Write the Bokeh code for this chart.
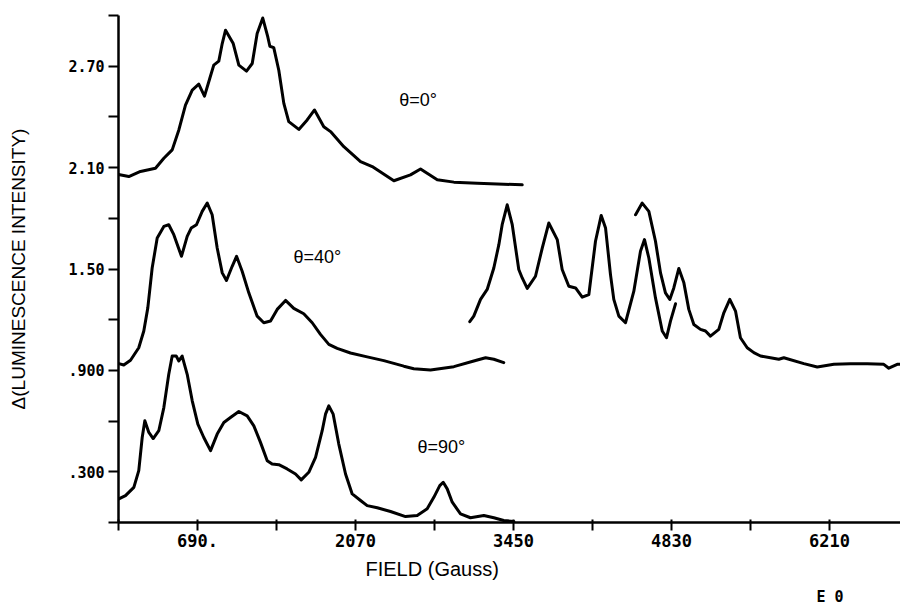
import math
from bokeh.plotting import figure
from bokeh.models import Range1d, FixedTicker, Label, Title
from bokeh.embed import file_html
from bokeh.resources import INLINE

# ---- data (Field in Gauss, Delta luminescence intensity) ----
theta0_x = [0, 90, 192, 323, 396, 469, 527, 585, 644, 701, 751, 797, 832, 876, 906, 935,
            1002, 1051, 1118, 1168, 1211, 1260, 1304, 1322, 1356, 1400, 1444, 1487, 1575,
            1648, 1712, 1793, 1852, 1968, 2114, 2216, 2405, 2550, 2638, 2784, 2929, 3133,
            3365, 3526]
theta0_y = [2.059, 2.047, 2.077, 2.096, 2.155, 2.205, 2.323, 2.470, 2.559, 2.594, 2.523,
            2.627, 2.706, 2.730, 2.834, 2.913, 2.834, 2.706, 2.671, 2.716, 2.893, 2.985,
            2.873, 2.818, 2.810, 2.676, 2.480, 2.372, 2.326, 2.382, 2.441, 2.342, 2.313,
            2.224, 2.136, 2.106, 2.022, 2.057, 2.092, 2.028, 2.014, 2.008, 2.002, 1.998]

theta40_low_x = [3, 46, 105, 177, 221, 256, 294, 338, 396, 439, 483, 550, 600, 635, 681,
                 731, 775, 818, 862, 906, 943, 993, 1031, 1080, 1138, 1211, 1269, 1328,
                 1386, 1459, 1531, 1618, 1692, 1764, 1837, 1910, 2026, 2172, 2317, 2492,
                 2579, 2725, 2929, 3103, 3206, 3278, 3365]
theta40_low_y = [0.940, 0.932, 0.960, 1.034, 1.133, 1.270, 1.506, 1.683, 1.752, 1.762,
                 1.703, 1.575, 1.693, 1.742, 1.762, 1.841, 1.890, 1.821, 1.624, 1.477,
                 1.432, 1.516, 1.575, 1.487, 1.359, 1.221, 1.182, 1.192, 1.261, 1.314,
                 1.267, 1.235, 1.182, 1.113, 1.054, 1.030, 1.003, 0.980, 0.958, 0.925,
                 0.910, 0.902, 0.922, 0.956, 0.975, 0.966, 0.946]

theta40_highA_x = [3068, 3103, 3162, 3220, 3278, 3322, 3351, 3395, 3439, 3496, 3526, 3570,
                   3642, 3701, 3758, 3832, 3875, 3933, 3992, 4050, 4108, 4166, 4216, 4254,
                   4297, 4326, 4370, 4428, 4501, 4559, 4594, 4632, 4690, 4749, 4786, 4821,
                   4865]
theta40_highA_y = [1.188, 1.221, 1.320, 1.379, 1.506, 1.644, 1.762, 1.880, 1.762, 1.497,
                   1.447, 1.385, 1.457, 1.624, 1.772, 1.674, 1.497, 1.398, 1.388, 1.333,
                   1.349, 1.664, 1.817, 1.742, 1.467, 1.320, 1.221, 1.182, 1.369, 1.605,
                   1.674, 1.565, 1.329, 1.133, 1.093, 1.192, 1.294]

theta40_highB_x = [4516, 4574, 4632, 4690, 4734, 4777, 4815, 4850, 4894, 4938, 4981, 5025,
                   5083, 5127, 5170, 5243, 5287, 5339, 5389, 5432, 5491, 5549, 5607, 5694,
                   5767, 5811, 5986, 6103, 6248, 6393, 6539, 6684, 6728, 6801, 6830]
theta40_highB_y = [1.821, 1.890, 1.841, 1.664, 1.477, 1.359, 1.320, 1.388, 1.503, 1.418,
                   1.261, 1.172, 1.143, 1.133, 1.103, 1.143, 1.241, 1.320, 1.251, 1.093,
                   1.034, 1.005, 0.985, 0.975, 0.966, 0.975, 0.940, 0.920, 0.936, 0.940,
                   0.940, 0.936, 0.913, 0.936, 0.936]

theta90_x = [3, 61, 134, 177, 207, 230, 265, 303, 352, 396, 439, 469, 504, 527, 556, 600,
             644, 693, 745, 804, 862, 920, 978, 1051, 1124, 1182, 1240, 1299, 1342, 1400,
             1473, 1546, 1596, 1662, 1721, 1779, 1808, 1837, 1875, 1924, 1983, 2041, 2114,
             2172, 2260, 2376, 2507, 2609, 2696, 2754, 2806, 2836, 2871, 2915, 2987, 3074,
             3191, 3278, 3365, 3453]
theta90_y = [0.140, 0.159, 0.208, 0.307, 0.503, 0.602, 0.533, 0.497, 0.543, 0.680, 0.877,
             0.985, 0.985, 0.956, 0.985, 0.877, 0.720, 0.582, 0.503, 0.425, 0.523, 0.592,
             0.621, 0.657, 0.631, 0.572, 0.474, 0.366, 0.346, 0.342, 0.317, 0.287, 0.252,
             0.297, 0.385, 0.543, 0.641, 0.690, 0.641, 0.464, 0.287, 0.169, 0.130, 0.100,
             0.087, 0.065, 0.035, 0.041, 0.081, 0.149, 0.218, 0.238, 0.199, 0.120, 0.051,
             0.028, 0.041, 0.028, 0.012, 0.006]

x_ticks = [0, 690, 1380, 2070, 2760, 3450, 4140, 4830, 5520, 6210]
x_tick_labels = ["", "690.", "", "2070", "", "3450", "", "4830", "", "6210"]
y_ticks = [0.0, 0.3, 0.6, 0.9, 1.2, 1.5, 1.8, 2.1, 2.4, 2.7, 3.0]
y_tick_labels = ["", ".300", "", ".900", "", "1.50", "", "2.10", "", "2.70", ""]

curve_labels = ["θ=0°", "θ=40°", "θ=90°"]
curve_label_x = [2616, 1736, 2820]
curve_label_y = [2.50, 1.57, 0.446]

# ---- figure ----
p = figure(width=900, height=605, output_backend="svg", toolbar_location=None,
           x_range=Range1d(0, 6830), y_range=Range1d(0, 3.0),
           min_border_left=118, min_border_right=0, min_border_top=15,
           min_border_bottom=83)
p.outline_line_color = None
p.xgrid.grid_line_color = None
p.ygrid.grid_line_color = None
p.background_fill_color = "white"
p.border_fill_color = "white"

for xs, ys in [(theta0_x, theta0_y), (theta40_low_x, theta40_low_y),
               (theta40_highA_x, theta40_highA_y), (theta40_highB_x, theta40_highB_y),
               (theta90_x, theta90_y)]:
    p.line(xs, ys, line_color="black", line_width=3, line_join="round", line_cap="round")

xa = p.xaxis[0]
xa.ticker = FixedTicker(ticks=x_ticks)
xa.major_label_overrides = {t: l for t, l in zip(x_ticks, x_tick_labels)}
xa.minor_tick_line_color = None
xa.axis_line_width = 2.5
xa.axis_line_color = "black"
xa.major_tick_line_width = 2
xa.major_tick_out = 8
xa.major_tick_in = 3
xa.major_label_standoff = 3
xa.major_label_text_font = "DejaVu Sans Mono"
xa.major_label_text_font_style = "bold"
xa.major_label_text_font_size = "17px"
xa.major_label_text_color = "black"

ya = p.yaxis[0]
ya.ticker = FixedTicker(ticks=y_ticks)
ya.major_label_overrides = {t: l for t, l in zip(y_ticks, y_tick_labels)}
ya.minor_tick_line_color = None
ya.axis_line_width = 2.5
ya.axis_line_color = "black"
ya.major_tick_line_width = 2
ya.major_tick_out = 10
ya.major_tick_in = 0
ya.major_label_standoff = 4
ya.major_label_text_font = "DejaVu Sans Mono"
ya.major_label_text_font_style = "bold"
ya.major_label_text_font_size = "15px"
ya.major_label_text_color = "black"
ya.axis_label = "Δ(LUMINESCENCE INTENSITY)"
ya.axis_label_text_font = "Liberation Sans"
ya.axis_label_text_font_style = "normal"
ya.axis_label_text_font_size = "19px"
ya.axis_label_text_color = "black"
ya.axis_label_standoff = 36

for t, lx, ly in zip(curve_labels, curve_label_x, curve_label_y):
    p.add_layout(Label(x=lx, y=ly, text=t, text_align="center", text_baseline="middle",
                       text_font="Liberation Sans", text_font_size="18px",
                       text_color="black"))

p.add_layout(Title(text="FIELD (Gauss)", align="left", offset=247, standoff=12,
                   text_font="Liberation Sans", text_font_style="normal",
                   text_font_size="20px", text_color="black"), "below")
p.add_layout(Title(text="E 0", align="right", offset=57, standoff=0,
                   text_font="DejaVu Sans Mono", text_font_style="bold",
                   text_font_size="15px", text_color="black"), "below")

open("out.html", "w").write(file_html(p, INLINE))
